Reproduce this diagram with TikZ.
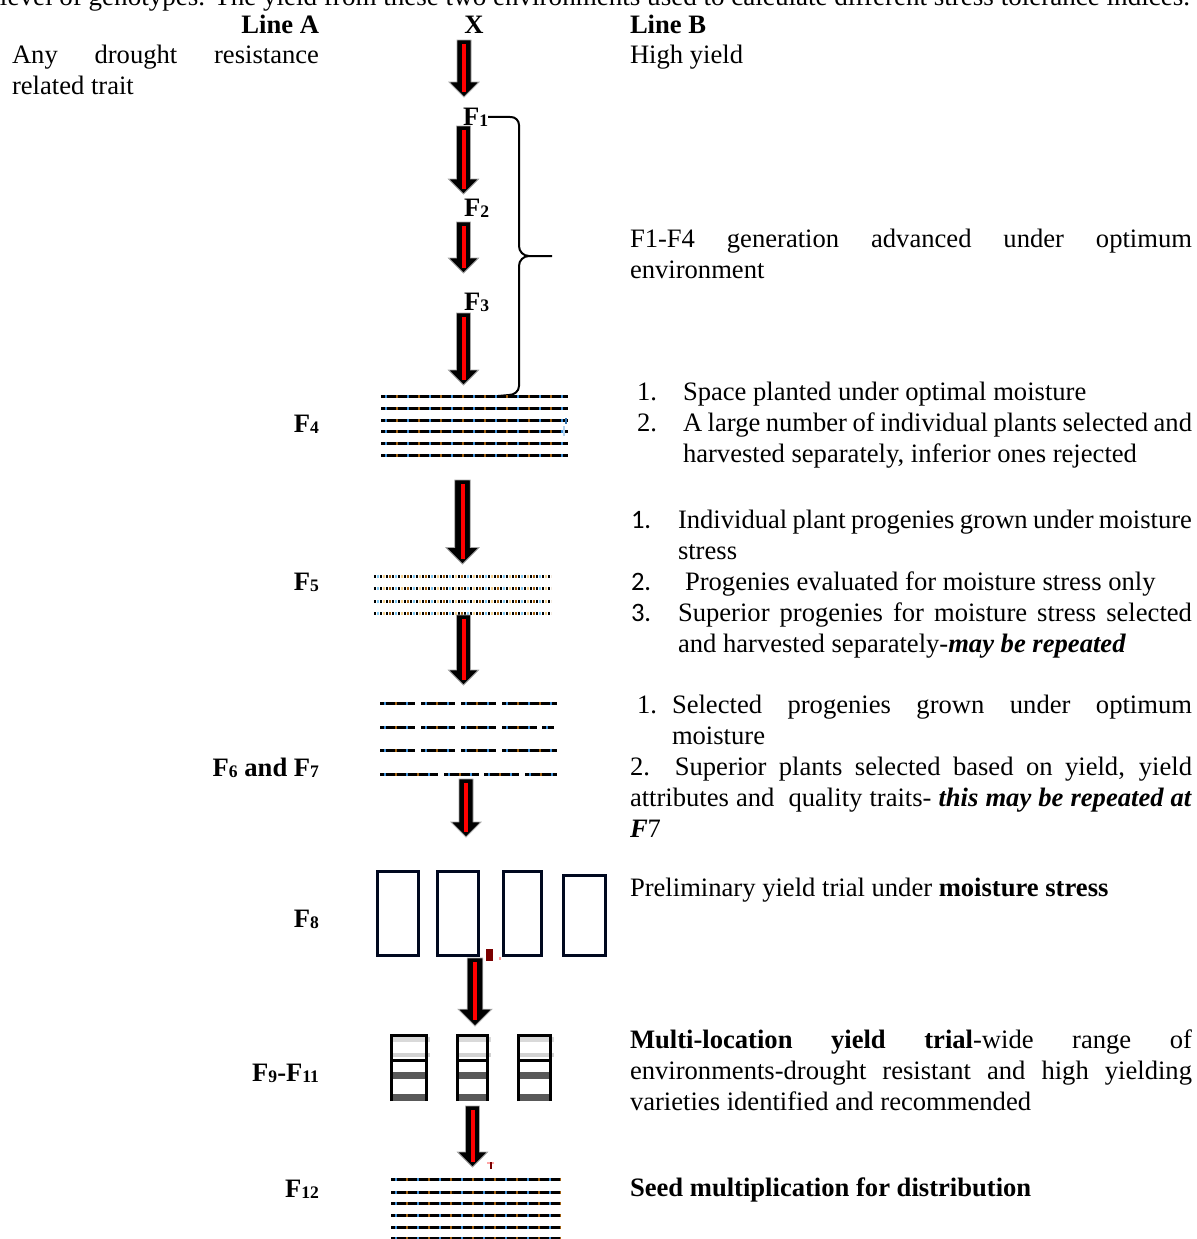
\documentclass[tikz,border=0pt]{standalone}
\usepackage{fontspec}
\setmainfont{Liberation Serif}
\newfontfamily\calibri{Carlito}
\usepackage{graphicx}
\usetikzlibrary{calc}
\definecolor{cblue}{HTML}{3D8FD8}
\definecolor{cbrown}{HTML}{A0600F}
\definecolor{lblue}{HTML}{7DC6EF}
\definecolor{peach}{HTML}{F2CF8A}
\definecolor{navy}{HTML}{00081F}
\definecolor{darkred}{HTML}{7A0000}
\newcommand\sbs[1]{\raisebox{-0.5pt}{\fontsize{8.8}{9}\selectfont #1}}
\newcommand\jline[2]{\hbox to #1{\spaceskip=0.25em plus 1fil minus 0.12em\xspaceskip=0.25em plus 1fil minus 0.12em\relax #2}}
\newcommand\blockarrow[3][1]{%
  \fill[black,draw=gray!70,line width=0.4pt] let \p1=(#2),\p2=(#3) in
    (\x1-3.5pt*#1,\y1) -- (\x1+3.5pt*#1,\y1) -- (\x1+3.5pt*#1,\y2+7.5pt*#1)
    -- (\x1+7.5pt*#1,\y2+7.5pt*#1) -- (\x2,\y2) -- (\x1-7.5pt*#1,\y2+7.5pt*#1)
    -- (\x1-3.5pt*#1,\y2+7.5pt*#1) -- cycle;
  \draw[red,line width=2pt] let \p1=(#2),\p2=(#3) in
    (\x1,\y1-2pt) -- (\x1,\y2+2.5pt*#1);}
\newcommand\seedrow[3]{%
  \draw[line width=1.5pt,black] (#1,#3) -- (#2,#3);
  \draw[line width=1.5pt,cblue,dash pattern=on 1pt off 10pt,dash phase=9pt] (#1,#3) -- (#2,#3);
  \draw[line width=1.5pt,cbrown,dash pattern=on 1pt off 10pt,dash phase=3.5pt] (#1,#3) -- (#2,#3);}
\newcommand\dotrow[3]{%
  \draw[line width=1.5pt,black,dash pattern=on 1.1pt off 1.9pt] (#1,#3) -- (#2,#3);
  \draw[line width=1.5pt,lblue,dash pattern=on 0.9pt off 8.1pt,dash phase=7.5pt] (#1,#3) -- (#2,#3);
  \draw[line width=1.5pt,peach,dash pattern=on 0.9pt off 8.1pt,dash phase=4.5pt] (#1,#3) -- (#2,#3);
  \draw[line width=1.5pt,cbrown,dash pattern=on 0.9pt off 8.1pt,dash phase=1.5pt] (#1,#3) -- (#2,#3);}
\newcommand\plotblock[2]{%
  \fill[gray!30] (#1,1037) rectangle (#2+2,1042);
  \fill[gray!35] (#1,1053) rectangle (#2+2,1057);
  \fill[black!65] (#1,1072) rectangle (#2,1079);
  \fill[black!65] (#1,1094) rectangle (#2,1101);
  \draw[line width=1.5pt] (#1+1.5,1101) -- (#1+1.5,1035.5) -- (#2-1.5,1035.5) -- (#2-1.5,1101);
  \draw[line width=1.5pt] (#1,1060) -- (#2,1060);}
\begin{document}
\begin{tikzpicture}[x=0.5pt,y=-0.5pt,
  every node/.style={inner sep=0pt,outer sep=0pt,font=\fontsize{13.3}{15.5}\selectfont},
  lbl/.style={anchor=base east,font=\fontsize{13.3}{15.5}\selectfont\bfseries},
  txt/.style={anchor=base west},
  bracepath/.style={line width=1pt,black},
  plotbox/.style={draw=navy,line width=1.5pt}]
\useasboundingbox (0,0) rectangle (1197,1239);
\clip (0,0) rectangle (1197,1239);

% top cut line
\node[anchor=base west] (topline) at (0,5) {\resizebox{595pt}{\height}{level of genotypes. The yield from these two environments used to calculate different stress tolerance indices.}};

% headers
\node[lbl] (lineA) at (319,33) {Line A};
\node[anchor=base,font=\fontsize{13.3}{15.5}\selectfont\bfseries] (X) at (474,33) {X};
\node[txt,font=\fontsize{13.3}{15.5}\selectfont\bfseries] (lineB) at (630,33) {Line B};
\node[txt] (traitA) at (12,63) {\vtop{\jline{153.5pt}{Any drought resistance}\hbox{related trait}}};
\node[txt] (traitB) at (630,63) {High yield};

% generation labels
\node[anchor=base west,font=\fontsize{13.3}{15.5}\selectfont\bfseries] (F1) at (463,125) {F\sbs1};
\node[anchor=base west,font=\fontsize{13.3}{15.5}\selectfont\bfseries] (F2) at (464,216) {F\sbs2};
\node[anchor=base west,font=\fontsize{13.3}{15.5}\selectfont\bfseries] (F3) at (464,310) {F\sbs3};
\node[lbl] (F4) at (319,432) {F\sbs4};
\node[lbl] (F5) at (319,590) {F\sbs5};
\node[lbl] (F67) at (319,776) {F\sbs6 and F\sbs7};
\node[lbl] (F8) at (319,927) {F\sbs8};
\node[lbl] (F911) at (319,1081) {F\sbs9-F\sbs{11}};
\node[lbl] (F12) at (319,1197) {F\sbs{12}};

% brace
\draw[bracepath] (F1.east) -- (511,117) to[out=0,in=90] (519,125) -- (519,246)
  to[out=-90,in=180] (529,256) -- (552,256);
\draw[bracepath] (529,256) to[out=180,in=90] (519,266) -- (519,386)
  to[out=-90,in=0] (509,395) -- (498,396);

% arrow end points
\coordinate (a0s) at (464,40);   \coordinate (a0e) at (464,97);
\coordinate (a1s) at (463.5,126); \coordinate (a1e) at (463.5,194);
\coordinate (a2s) at (463.5,222); \coordinate (a2e) at (463.5,273);
\coordinate (a3s) at (463.5,313); \coordinate (a3e) at (463.5,385);
\coordinate (a4s) at (462.5,480); \coordinate (a4e) at (462.5,564);
\coordinate (a5s) at (463.5,615); \coordinate (a5e) at (463.5,685);
\coordinate (a6s) at (466,779);   \coordinate (a6e) at (466,837);
\coordinate (a7s) at (475,958);   \coordinate (a7e) at (475,1026);
\coordinate (a8s) at (472.5,1106); \coordinate (a8e) at (472.5,1167);

% F4 rows
\foreach \yy in {396,408,420,431,443,455} {\seedrow{381}{568}{\yy}}
\draw[cblue!80!black,line width=1pt] (566,418) -- (566,424);
\draw[cblue!40,line width=1pt] (564,426) -- (564,436);
% F5 rows
\foreach \yy in {576,588,601,613} {\dotrow{374}{551}{\yy}}
% F6/F7 rows
\foreach \yy in {703,750} {\seedrow{380}{415}{\yy}\seedrow{421}{455}{\yy}\seedrow{461}{496}{\yy}\seedrow{502}{557}{\yy}}
\seedrow{380}{415}{727}\seedrow{421}{455}{727}\seedrow{461}{496}{727}\seedrow{502}{537}{727}\seedrow{542}{554}{727}
\seedrow{380}{438}{774}\seedrow{444}{479}{774}\seedrow{484}{519}{774}\seedrow{525}{557}{774}
% F8 plots
\draw[plotbox] (377.5,871.5) rectangle (418.5,955.5);
\draw[plotbox] (437.5,871.5) rectangle (478.5,955.5);
\draw[plotbox] (503.5,871.5) rectangle (541.5,955.5);
\draw[plotbox] (563.5,875.5) rectangle (605.5,955.5);
\fill[darkred] (486,949) rectangle (493,961);
\fill[red!40] (499,957) rectangle (501,960);
% F9-F11 plots
\plotblock{390}{428}
\plotblock{456}{489}
\plotblock{517}{552}
% F12 rows
\foreach \yy in {1179,1192,1203,1215,1227,1238} {\seedrow{391}{561}{\yy}}
\fill[red!35] (487,1162) rectangle (494,1164);
\fill[darkred] (489.5,1162) rectangle (491.5,1169);

% arrows
\blockarrow{a0s}{a0e}
\blockarrow{a1s}{a1e}
\blockarrow{a2s}{a2e}
\blockarrow{a3s}{a3e}
\blockarrow[1.1]{a4s}{a4e}
\blockarrow{a5s}{a5e}
\blockarrow{a6s}{a6e}
\blockarrow[1.12]{a7s}{a7e}
\blockarrow{a8s}{a8e}

% right column texts
\node[txt] (t14) at (630,247) {\vtop{\jline{281pt}{F1-F4 generation advanced under optimum}\hbox{environment}}};
\node[txt] (n41) at (637,400) {1.};
\node[txt] (t41) at (683,400) {Space planted under optimal moisture};
\node[txt] (n42) at (637,431) {2.};
\node[txt] (t42) at (683,431) {\vtop{\jline{254.5pt}{A large number of individual plants selected and}\hbox{harvested separately, inferior ones rejected}}};
\node[txt] (n51) at (631,528) {\calibri 1.};
\node[txt] (t51) at (678,528) {\vtop{\jline{257pt}{Individual plant progenies grown under moisture}\hbox{stress}}};
\node[txt] (n52) at (631,590) {\calibri 2.};
\node[txt] (t52) at (685,590) {Progenies evaluated for moisture stress only};
\node[txt] (n53) at (631,621) {\calibri 3.};
\node[txt] (t53) at (678,621) {\vtop{\jline{257pt}{Superior progenies for moisture stress selected}\hbox{and harvested separately-\textbf{\textit{may be repeated}}}}};
\node[txt] (n61) at (637,713) {1.};
\node[txt] (t61) at (672,713) {\vtop{\jline{260pt}{Selected progenies grown under optimum}\hbox{moisture}}};
\node[txt] (t62) at (630,775) {\vtop{\jline{281pt}{2.\ \ Superior plants selected based on yield, yield}\jline{281pt}{attributes and\ \ quality traits- \textbf{\textit{this may be repeated at}}}\hbox{\textbf{\textit{F}}7}}};
\node[txt] (t8) at (630,896) {Preliminary yield trial under \textbf{moisture stress}};
\node[txt] (t9) at (630,1048) {\vtop{\jline{281pt}{\textbf{Multi-location yield trial}-wide range of}\jline{281pt}{environments-drought resistant and high yielding}\hbox{varieties identified and recommended}}};
\node[txt] (t12) at (630,1196) {\textbf{Seed multiplication for distribution}};
\end{tikzpicture}
\end{document}
